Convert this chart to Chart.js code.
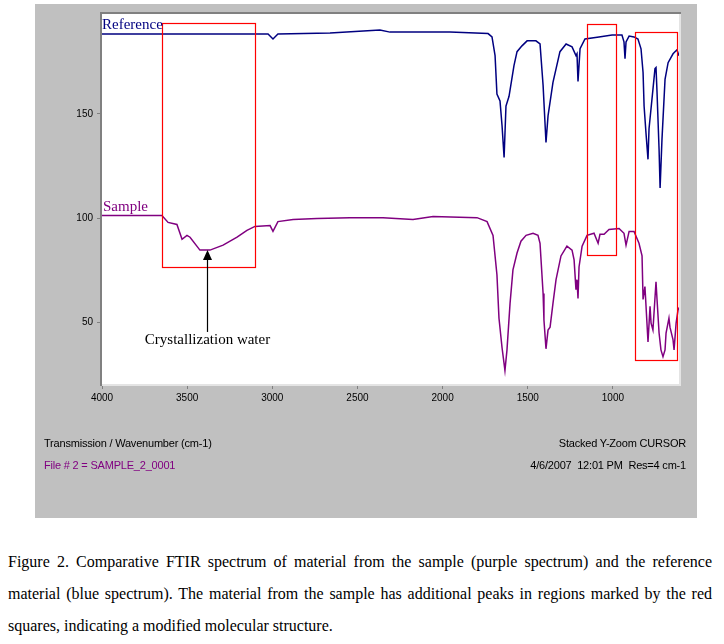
<!DOCTYPE html>
<html>
<head>
<meta charset="utf-8">
<script src="https://cdn.jsdelivr.net/npm/chart.js@4.4.0/dist/chart.umd.min.js"></script>
<style>
  body { margin: 0; background: #fff; width: 724px; height: 644px; position: relative; overflow: hidden; }
  #panel { position: absolute; left: 35px; top: 4px; width: 662px; height: 514px; background: #c0c0c0; }
  #chartBox { position: absolute; left: 0; top: 0; width: 662px; height: 514px; }
  .foot { position: absolute; font-family: 'Liberation Sans Narrow', 'Liberation Sans', Arial, sans-serif; font-size: 11px; letter-spacing: -0.2px; line-height: 14px; white-space: nowrap; color: #000; }
  #caption { position: absolute; left: 8px; top: 546px; width: 704px; font-family: 'Liberation Serif', 'Times New Roman', serif; font-size: 16px; line-height: 32px; text-align: justify; color: #000; }
</style>
</head>
<body>
<div id="panel">
  <div id="chartBox"><canvas id="ftirChart"></canvas></div>
  <div class="foot" style="left:9px; top:432px;">Transmission / Wavenumber (cm-1)</div>
  <div class="foot" style="left:9px; top:454px; color:#800080;">File # 2 = SAMPLE_2_0001</div>
  <div class="foot" style="right:11px; top:432px;">Stacked Y-Zoom CURSOR</div>
  <div class="foot" style="right:11px; top:454px;">4/6/2007&nbsp; 12:01 PM&nbsp; Res=4 cm-1</div>
</div>
<div id="caption">Figure 2. Comparative FTIR spectrum of material from the sample (purple spectrum) and the reference material (blue spectrum). The material from the sample has additional peaks in regions marked by the red squares, indicating a modified molecular structure.</div>

<script>
// Reference spectrum (blue), wavenumber in cm-1 and stacked transmission value
const refWavenumber = [4000, 3630, 3248, 3025, 2996, 2967, 2661, 2368, 2309, 1957, 1733, 1710, 1692, 1681, 1663, 1651, 1639, 1628, 1610, 1581, 1563, 1534, 1504, 1452, 1428, 1410, 1393, 1381, 1352, 1311, 1275, 1240, 1217, 1211, 1205, 1193, 1164, 1082, 1005, 947, 935, 929, 923, 905, 876, 853, 835, 823, 817, 806, 794, 788, 765, 753, 747, 741, 729, 723, 712, 694, 676, 647, 624, 612];
const refValues = [188.4, 188.4, 188.4, 188.4, 186.0, 188.4, 188.9, 190.3, 189.3, 189.3, 188.6, 187.0, 178.0, 159.5, 156.2, 144.3, 129.1, 153.8, 158.5, 173.2, 179.9, 182.7, 185.1, 185.1, 183.6, 163.7, 136.3, 149.1, 165.2, 179.9, 183.6, 182.2, 178.0, 178.9, 165.6, 181.3, 186.0, 187.0, 187.9, 187.9, 184.6, 176.5, 184.6, 187.4, 187.0, 186.0, 181.3, 169.9, 153.8, 141.0, 128.2, 142.9, 161.8, 171.8, 172.3, 160.4, 132.9, 114.5, 137.7, 166.6, 174.6, 178.9, 180.8, 178.0];

// Sample spectrum (purple)
const sampleWavenumber = [4000, 3648, 3612, 3560, 3530, 3501, 3483, 3425, 3366, 3289, 3207, 3149, 3102, 3013, 2996, 2967, 2878, 2737, 2544, 2350, 2174, 2056, 1798, 1739, 1704, 1681, 1669, 1651, 1634, 1622, 1604, 1587, 1563, 1540, 1510, 1469, 1440, 1428, 1410, 1405, 1393, 1381, 1369, 1352, 1334, 1305, 1270, 1240, 1228, 1217, 1211, 1205, 1199, 1181, 1152, 1111, 1087, 1076, 1052, 1023, 964, 935, 923, 905, 876, 847, 829, 823, 812, 794, 782, 776, 765, 747, 741, 729, 718, 706, 694, 688, 671, 665, 647, 641, 629, 618, 612];
const sampleValues = [101.2, 101.2, 97.9, 96.9, 89.8, 91.7, 90.8, 84.6, 84.6, 87.0, 90.8, 94.1, 96.0, 96.4, 93.6, 98.3, 99.3, 99.8, 100.2, 100.2, 99.3, 100.7, 100.2, 98.3, 91.7, 72.8, 51.9, 37.7, 26.8, 36.7, 59.0, 75.1, 83.2, 88.9, 91.7, 92.7, 91.7, 87.9, 63.8, 51.0, 37.2, 46.2, 47.6, 59.0, 70.4, 81.8, 86.5, 84.6, 79.9, 65.6, 70.4, 61.4, 76.5, 86.5, 91.7, 92.7, 87.9, 92.2, 92.2, 94.5, 95.0, 92.7, 87.0, 93.6, 93.6, 87.9, 81.8, 60.9, 67.1, 40.5, 57.6, 49.5, 46.2, 69.4, 60.9, 44.8, 36.7, 33.4, 36.7, 44.8, 51.9, 47.6, 41.5, 36.7, 49.5, 55.7, 57.0];

// Tick labels
const xTicks = [4000, 3500, 3000, 2500, 2000, 1500, 1000];
const yTicks = [50, 100, 150];

// Regions marked with red squares (wavenumber from/to, value top/bottom)
const markedRegions = [
  { from: 3648, to: 3101, top: 193.9, bottom: 76.5 },
  { from: 1152, to: 982, top: 193.1, bottom: 82.2 },
  { from: 870, to: 624, top: 189.3, bottom: 32.0 }
];

const tickFont = { family: "'Liberation Sans Narrow', 'Liberation Sans', Arial, sans-serif", size: 10 };

// White plot area with sunken frame, red regions, labels and arrow
const ftirDecor = {
  id: 'ftirDecor',
  beforeDraw(chart) {
    const { ctx, chartArea: a } = chart;
    ctx.save();
    ctx.fillStyle = '#ffffff';
    ctx.fillRect(a.left, a.top, a.right - a.left, a.bottom - a.top);
    ctx.restore();
  },
  afterDatasetsDraw(chart) {
    const { ctx, chartArea: a, scales: { x, y } } = chart;
    ctx.save();
    // frame
    ctx.fillStyle = '#808080';
    ctx.fillRect(a.left - 2, a.top - 2, 2, a.bottom - a.top + 4);
    ctx.fillRect(a.left - 2, a.top - 2, a.right - a.left + 4, 2);
    ctx.fillStyle = '#e4e4e4';
    ctx.fillRect(a.right, a.top, 2, a.bottom - a.top + 2);
    ctx.fillRect(a.left, a.bottom, a.right - a.left + 2, 2);

    // red squares
    ctx.strokeStyle = '#ff0000';
    ctx.lineWidth = 1.2;
    markedRegions.forEach(r => {
      const x1 = Math.round(x.getPixelForValue(r.from)) + 0.5;
      const x2 = Math.round(x.getPixelForValue(r.to)) + 0.5;
      const y1 = Math.round(y.getPixelForValue(r.top)) + 0.5;
      const y2 = Math.round(y.getPixelForValue(r.bottom)) + 0.5;
      ctx.strokeRect(x1, y1, x2 - x1, y2 - y1);
    });

    // series labels
    ctx.font = "15px 'Liberation Serif', 'Times New Roman', serif";
    ctx.textBaseline = 'alphabetic';
    ctx.textAlign = 'left';
    ctx.fillStyle = '#000080';
    ctx.fillText('Reference', x.getPixelForValue(4000), y.getPixelForValue(190.6));
    ctx.fillStyle = '#800080';
    ctx.fillText('Sample', x.getPixelForValue(3994), y.getPixelForValue(103.6));

    // arrow to the crystallization water band
    const ax = Math.round(x.getPixelForValue(3383)) + 0.5;
    const tip = y.getPixelForValue(84.6);
    ctx.strokeStyle = '#000';
    ctx.lineWidth = 1.2;
    ctx.beginPath();
    ctx.moveTo(ax, y.getPixelForValue(45.3));
    ctx.lineTo(ax, tip + 8);
    ctx.stroke();
    ctx.fillStyle = '#000';
    ctx.beginPath();
    ctx.moveTo(ax, tip);
    ctx.lineTo(ax - 4.5, tip + 10);
    ctx.lineTo(ax + 4.5, tip + 10);
    ctx.closePath();
    ctx.fill();

    ctx.textAlign = 'center';
    ctx.fillText('Crystallization water', ax, y.getPixelForValue(39.6));
    ctx.restore();
  }
};

new Chart(document.getElementById('ftirChart'), {
  type: 'scatter',
  data: {
    datasets: [
      {
        label: 'Reference',
        data: refWavenumber.map((w, i) => ({ x: w, y: refValues[i] })),
        showLine: true,
        borderColor: '#000080',
        borderWidth: 1.5,
        pointRadius: 0,
        tension: 0
      },
      {
        label: 'Sample',
        data: sampleWavenumber.map((w, i) => ({ x: w, y: sampleValues[i] })),
        showLine: true,
        borderColor: '#800080',
        borderWidth: 1.5,
        pointRadius: 0,
        tension: 0
      }
    ]
  },
  options: {
    responsive: true,
    maintainAspectRatio: false,
    animation: false,
    layout: { padding: { left: 0, top: 6, right: 18, bottom: 0 } },
    plugins: { legend: { display: false }, tooltip: { enabled: false } },
    scales: {
      x: {
        type: 'linear',
        reverse: true,
        min: 612,
        max: 4000,
        afterBuildTicks: scale => { scale.ticks = xTicks.map(v => ({ value: v })); },
        afterFit: scale => { scale.height = 134; },
        border: { display: false },
        grid: { drawOnChartArea: false, drawTicks: true, tickLength: 5, color: '#808080' },
        ticks: { color: '#000', font: tickFont, padding: 3, maxRotation: 0, callback: v => String(v) }
      },
      y: {
        min: 20.3,
        max: 198,
        afterBuildTicks: scale => { scale.ticks = yTicks.map(v => ({ value: v })); },
        afterFit: scale => { scale.width = 67; },
        border: { display: false },
        grid: { drawOnChartArea: false, drawTicks: true, tickLength: 5, color: '#808080' },
        ticks: { color: '#000', font: tickFont, padding: 4, callback: v => String(v) }
      }
    }
  },
  plugins: [ftirDecor]
});
</script>
</body>
</html>
